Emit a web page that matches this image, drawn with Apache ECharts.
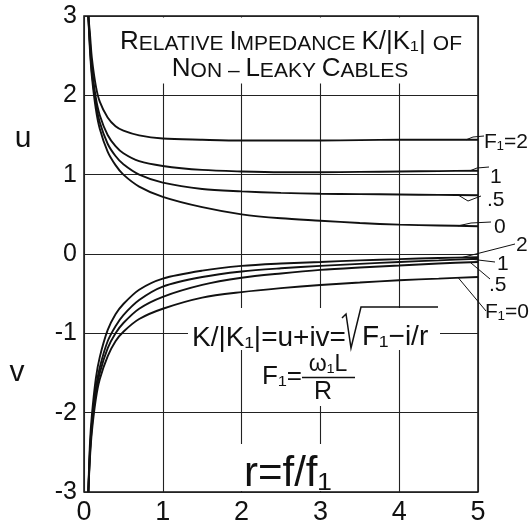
<!DOCTYPE html>
<html>
<head>
<meta charset="utf-8">
<script src="https://cdn.jsdelivr.net/npm/echarts@6/dist/echarts.min.js"></script>
<style>
  html, body { margin: 0; padding: 0; background: #fff; }
  #chart { width: 531px; height: 527px; }
</style>
</head>
<body>
<div id="chart"></div>
<script>
// r = f/f1 sample points shared by every curve
const rValues = [0.055, 0.075, 0.1, 0.15, 0.2, 0.3, 0.4, 0.5, 0.7, 1, 1.5, 2, 2.5, 3, 3.5, 4, 4.5, 5];

// real part u of K/|K1| for F1 = 2, 1, .5, 0
const uF2  = [3.0, 2.78, 2.47, 2.12, 1.92, 1.72, 1.61, 1.555, 1.495, 1.455, 1.44, 1.43, 1.43, 1.43, 1.435, 1.44, 1.44, 1.44];
const uF1  = [3.0, 2.68, 2.35, 1.97, 1.75, 1.50, 1.36, 1.27, 1.17, 1.11, 1.06, 1.04, 1.03, 1.03, 1.035, 1.04, 1.045, 1.05];
const uF05 = [3.0, 2.63, 2.29, 1.90, 1.66, 1.39, 1.235, 1.13, 1.00, 0.90, 0.82, 0.79, 0.77, 0.76, 0.755, 0.75, 0.745, 0.74];
const uF0  = [3.0, 2.58, 2.24, 1.83, 1.58, 1.29, 1.12, 1.00, 0.85, 0.72, 0.59, 0.50, 0.45, 0.42, 0.39, 0.37, 0.36, 0.35];

// imaginary part v of K/|K1| for F1 = 2, 1, .5, 0
const vF2  = [-3.0, -2.40, -2.03, -1.57, -1.30, -0.96, -0.76, -0.63, -0.45, -0.31, -0.21, -0.15, -0.12, -0.10, -0.08, -0.065, -0.05, -0.04];
const vF1  = [-3.0, -2.49, -2.13, -1.69, -1.43, -1.10, -0.91, -0.77, -0.58, -0.41, -0.29, -0.22, -0.18, -0.15, -0.125, -0.10, -0.08, -0.06];
const vF05 = [-3.0, -2.53, -2.18, -1.76, -1.50, -1.19, -1.00, -0.87, -0.69, -0.54, -0.39, -0.30, -0.245, -0.20, -0.17, -0.145, -0.12, -0.10];
const vF0  = [-3.0, -2.58, -2.24, -1.83, -1.58, -1.29, -1.10, -0.98, -0.82, -0.69, -0.55, -0.48, -0.43, -0.39, -0.36, -0.33, -0.31, -0.29];

// curve labels at the right-hand edge
const uLabels = ['F₁=2', '1', '.5', '0'];
const vLabels = ['2', '1', '.5', 'F₁=0'];

// axis tick labels
const xTickLabels = ['0', '1', '2', '3', '4', '5'];
const yTickLabels = ['-3', '-2', '-1', '0', '1', '2', '3'];

const FONT = '"Liberation Sans", "DejaVu Sans", sans-serif';
const INK = '#111';

function pairs(ys) { return rValues.map((r, i) => [r, ys[i]]); }

const curves = [
  { name: 'u F1=2', data: uF2 }, { name: 'u F1=1', data: uF1 },
  { name: 'u F1=.5', data: uF05 }, { name: 'u F1=0', data: uF0 },
  { name: 'v F1=2', data: vF2 }, { name: 'v F1=1', data: vF1 },
  { name: 'v F1=.5', data: vF05 }, { name: 'v F1=0', data: vF0 }
];

const chart = echarts.init(document.getElementById('chart'), null, { renderer: 'canvas' });

chart.setOption({
  animation: false,
  backgroundColor: '#fff',
  grid: {
    left: 84, right: 53, top: 16, bottom: 35,
    show: true, borderColor: INK, borderWidth: 1.5, backgroundColor: 'transparent'
  },
  xAxis: {
    type: 'value', min: 0, max: 5, interval: 1,
    axisLine: { show: false },
    axisTick: { show: false },
    splitLine: { show: true, lineStyle: { color: '#222', width: 1.1 } },
    axisLabel: {
      margin: 7, fontSize: 27, fontFamily: FONT, color: INK,
      formatter: v => xTickLabels[Math.round(v)]
    }
  },
  yAxis: {
    type: 'value', min: -3, max: 3, interval: 1,
    axisLine: { show: false },
    axisTick: { show: false },
    splitLine: { show: true, lineStyle: { color: '#222', width: 1.1 } },
    axisLabel: {
      margin: 7, fontSize: 25, fontFamily: FONT, color: INK,
      padding: [8, 0, 0, 0],
      formatter: v => yTickLabels[Math.round(v) + 3]
    }
  },
  series: curves.map(c => ({
    name: c.name,
    type: 'line',
    data: pairs(c.data),
    showSymbol: false,
    smooth: 0.3,
    z: 3,
    lineStyle: { color: INK, width: 1.9 }
  }))
});

// ---- annotations: title, formulas, axis letters, curve labels ----
const px = (x, y) => chart.convertToPixel({ gridIndex: 0 }, [x, y]);

function whiteBox(x, y, w, h) {
  return { type: 'rect', z: 1, silent: true, shape: { x, y, width: w, height: h }, style: { fill: '#fff' } };
}
function label(text, x, y, size, align) {
  return {
    type: 'text', z: 5, silent: true, x, y,
    style: {
      text, fontSize: size, fontFamily: FONT, fill: INK,
      align: align || 'left', verticalAlign: 'middle',
      textAlign: align || 'left', textVerticalAlign: 'middle'
    }
  };
}
function poly(points, w) {
  return { type: 'polyline', z: 5, silent: true, shape: { points }, style: { stroke: INK, lineWidth: w || 1.1, fill: null } };
}

const big = { fontSize: 26, fontFamily: FONT, fill: INK, verticalAlign: 'bottom', lineHeight: 26 };
const sml = { fontSize: 21, fontFamily: FONT, fill: INK, verticalAlign: 'bottom', lineHeight: 26 };

const elements = [
  // clear the grid behind the title block and formulas
  whiteBox(100, 17.5, 376.5, 66),
  whiteBox(188, 308, 252, 42),
  whiteBox(258, 350, 98, 56),
  whiteBox(240, 444, 106, 47),

  // title (small capitals)
  {
    type: 'text', z: 5, silent: true, x: 291, y: 42,
    style: {
      text: '{b|R}{s|ELATIVE }{b|I}{s|MPEDANCE }{b|K/|K₁| }{s|OF}',
      rich: { b: big, s: sml },
      align: 'center', verticalAlign: 'middle', textAlign: 'center', textVerticalAlign: 'middle'
    }
  },
  {
    type: 'text', z: 5, silent: true, x: 290, y: 69,
    style: {
      text: '{b|N}{s|ON – }{b|L}{s|EAKY }{b|C}{s|ABLES}',
      rich: { b: big, s: sml },
      align: 'center', verticalAlign: 'middle', textAlign: 'center', textVerticalAlign: 'middle'
    }
  },

  // K/|K1| = u + iv = sqrt(F1 - i/r)
  label('K/|K₁|=u+iv=', 192, 338, 28),
  poly([[342, 318], [346, 314], [351, 348], [361, 307], [438, 307]], 1.5),
  label('F₁−i/r', 362, 337, 28),

  // F1 = w1 L / R
  label('F₁=', 262, 377, 26),
  label('ω₁L', 328, 365, 23, 'center'),
  poly([[302, 377.5], [355, 377.5]], 1.5),
  label('R', 323, 392, 25, 'center'),

  // r = f / f1
  label('r=f/f₁', 244, 474, 42),

  // axis letters
  label('u', 23, 139, 30, 'center'),
  label('v', 17, 373, 30, 'center')
];

// curve-end labels with leader lines
const uLeaders = [
  { x: 4.85, data: uF2,  mid: [473, 137], end: [484, 136], at: [484, 142] },
  { x: 4.9,  data: uF1,  mid: [477, 168], end: [489, 167], at: [490, 177] },
  { x: 4.75, data: uF05, mid: [468, 201], end: [481, 196], at: [487, 200] },
  { x: 4.75, data: uF0,  mid: [471, 223], end: [491, 222], at: [494, 227] }
];
const vLeaders = [
  { x: 4.8,  data: vF2,  end: [515, 244], at: [516, 245] },
  { x: 4.9,  data: vF1,  end: [495, 262], at: [497, 264] },
  { x: 4.9,  data: vF05, end: [490, 279], at: [489, 285] },
  { x: 4.75, data: vF0,  end: [486, 311], at: [485, 312] }
];

function valueAt(ys, x) {
  for (let i = 1; i < rValues.length; i++) {
    if (x <= rValues[i]) {
      const t = (x - rValues[i - 1]) / (rValues[i] - rValues[i - 1]);
      return ys[i - 1] + t * (ys[i] - ys[i - 1]);
    }
  }
  return ys[ys.length - 1];
}

uLeaders.forEach((l, i) => {
  const p = px(l.x, valueAt(l.data, l.x));
  elements.push(poly([p, l.mid, l.end], 1));
  elements.push(label(uLabels[i], l.at[0], l.at[1], 21));
});
vLeaders.forEach((l, i) => {
  const p = px(l.x, valueAt(l.data, l.x));
  elements.push(poly([p, l.end], 1));
  elements.push(label(vLabels[i], l.at[0], l.at[1], 21));
});

chart.setOption({ graphic: { elements } });
</script>
</body>
</html>
